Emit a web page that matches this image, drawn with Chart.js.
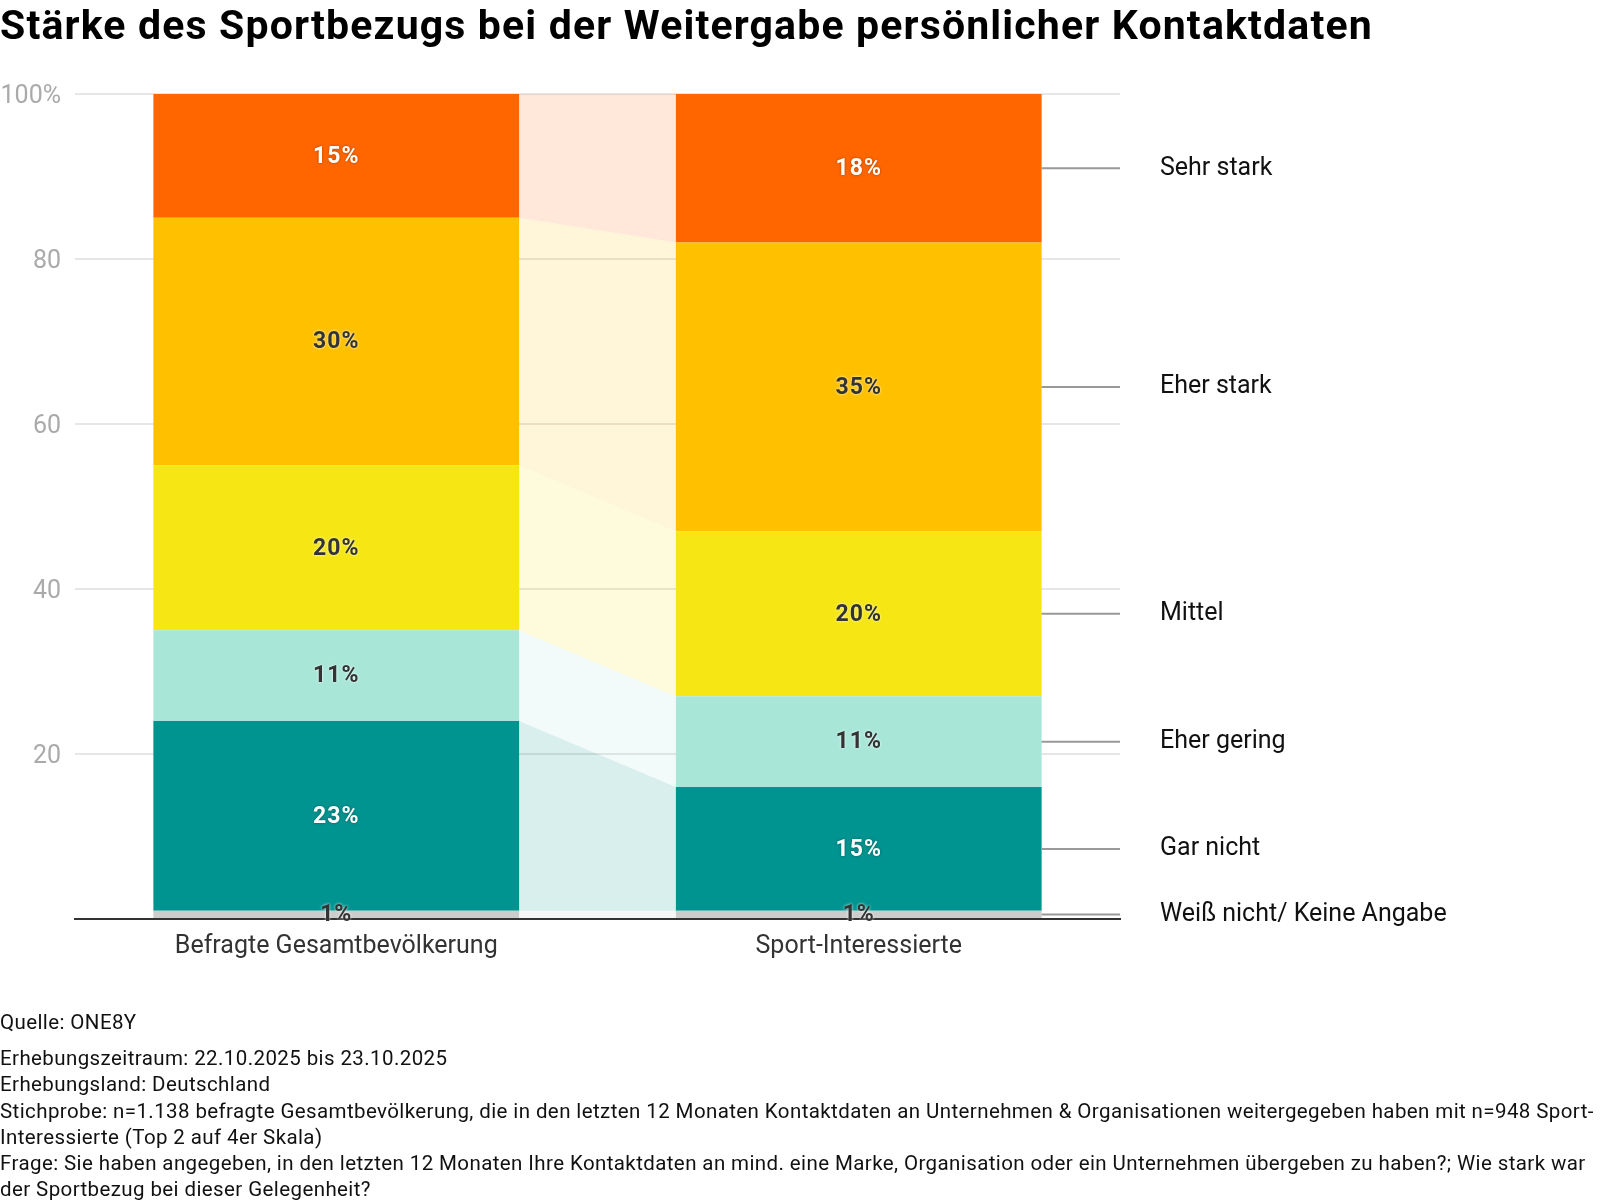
<!DOCTYPE html>
<html lang="de">
<head>
<meta charset="utf-8">
<script src="https://cdn.jsdelivr.net/npm/chart.js@4.4.1/dist/chart.umd.min.js"></script>
<style>
    body { margin: 0; background: #fff; font-family: Roboto, "Noto Sans", sans-serif; }
    #wrap { position: relative; width: 1600px; height: 1204px; }
    #title { position: absolute; left: 0; top: 0; font-weight: 700; font-size: 41px; letter-spacing: 1.15px; color: #000; line-height: 50px; white-space: nowrap; }
    #footer { position: absolute; left: 0; top: 1009px; font-size: 20.5px; letter-spacing: 0.4px; color: #111; line-height: 26.2px; white-space: nowrap; }
    #footer .src { margin-bottom: 10px; }
    canvas { position: absolute; left: 0; top: 0; }
</style>
</head>
<body>
<div id="wrap">
    <canvas id="sportChart" width="1600" height="1204"></canvas>
    <div id="title">Stärke des Sportbezugs bei der Weitergabe persönlicher Kontaktdaten</div>
    <div id="footer">
        <div class="src">Quelle: ONE8Y</div>
        <div>Erhebungszeitraum: 22.10.2025 bis 23.10.2025</div>
        <div>Erhebungsland: Deutschland</div>
        <div>Stichprobe: n=1.138 befragte Gesamtbevölkerung, die in den letzten 12 Monaten Kontaktdaten an Unternehmen &amp; Organisationen weitergegeben haben mit n=948 Sport-</div>
        <div>Interessierte (Top 2 auf 4er Skala)</div>
        <div>Frage: Sie haben angegeben, in den letzten 12 Monaten Ihre Kontaktdaten an mind. eine Marke, Organisation oder ein Unternehmen übergeben zu haben?; Wie stark war</div>
        <div>der Sportbezug bei dieser Gelegenheit?</div>
    </div>
</div>
<script>
// data (bottom of stack first)
var categories = ['Befragte Gesamtbevölkerung', 'Sport-Interessierte'];
var seriesNames = ['Weiß nicht/ Keine Angabe', 'Gar nicht', 'Eher gering', 'Mittel', 'Eher stark', 'Sehr stark'];
var weissNicht = [1, 1];
var garNicht = [23, 15];
var eherGering = [11, 11];
var mittel = [20, 20];
var eherStark = [30, 35];
var sehrStark = [15, 18];
var yTicks = [0, 20, 40, 60, 80, 100];

var seriesValues = [weissNicht, garNicht, eherGering, mittel, eherStark, sehrStark];
var colors = ['#cccccc', '#009490', '#a8e6d8', '#f5e614', '#ffc000', '#ff6600'];
var bandColors = ['rgba(204,204,204,0.15)', 'rgba(0,148,144,0.15)', 'rgba(168,230,216,0.15)',
                  'rgba(245,230,20,0.15)', 'rgba(255,192,0,0.15)', 'rgba(255,102,0,0.15)'];
var labelDark = [true, false, true, true, true, false];

var datasets = seriesNames.map(function(name, i) {
    return {
        label: name,
        data: seriesValues[i],
        backgroundColor: colors[i],
        borderWidth: 0,
        barPercentage: 0.7,
        categoryPercentage: 1
    };
});

// light bands between the two bars
var bandsPlugin = {
    id: 'bands',
    beforeDatasetsDraw: function(chart) {
        var ctx = chart.ctx;
        chart.data.datasets.forEach(function(ds, i) {
            var meta = chart.getDatasetMeta(i);
            var a = meta.data[0], b = meta.data[1];
            var ax = a.x + a.width / 2, bx = b.x - b.width / 2;
            ctx.save();
            ctx.fillStyle = bandColors[i];
            ctx.beginPath();
            ctx.moveTo(ax, a.y);
            ctx.lineTo(bx, b.y);
            ctx.lineTo(bx, b.base);
            ctx.lineTo(ax, a.base);
            ctx.closePath();
            ctx.fill();
            ctx.restore();
        });
    }
};

// percent labels inside bars + leader lines to the right
var labelsPlugin = {
    id: 'segLabels',
    afterDatasetsDraw: function(chart) {
        var ctx = chart.ctx;
        var area = chart.chartArea;
        chart.data.datasets.forEach(function(ds, i) {
            var meta = chart.getDatasetMeta(i);
            meta.data.forEach(function(bar, j) {
                var cy = (bar.y + bar.base) / 2;
                ctx.save();
                ctx.font = 'bold 23px Roboto';
                ctx.letterSpacing = '1px';
                ctx.textAlign = 'center';
                ctx.textBaseline = 'middle';
                if (labelDark[i]) {
                    ctx.fillStyle = '#333333';
                    ctx.shadowColor = 'rgba(255,255,255,0.9)';
                } else {
                    ctx.fillStyle = '#ffffff';
                    ctx.shadowColor = 'rgba(0,0,0,0.35)';
                }
                ctx.shadowBlur = 3;
                ctx.fillText(ds.data[j] + '%', bar.x, cy + 1);
                ctx.restore();
            });
            var last = meta.data[meta.data.length - 1];
            var ly = (last.y + last.base) / 2;
            ctx.save();
            ctx.strokeStyle = '#999999';
            ctx.lineWidth = 2;
            ctx.beginPath();
            ctx.moveTo(last.x + last.width / 2, ly);
            ctx.lineTo(area.right, ly);
            ctx.stroke();
            ctx.font = '25px Roboto';
            ctx.fillStyle = '#111111';
            ctx.textAlign = 'left';
            ctx.textBaseline = 'middle';
            ctx.fillText(ds.label, area.right + 40, ly);
            ctx.restore();
        });
    }
};

new Chart(document.getElementById('sportChart').getContext('2d'), {
    type: 'bar',
    data: { labels: categories, datasets: datasets },
    plugins: [bandsPlugin, labelsPlugin],
    options: {
        responsive: false,
        animation: false,
        layout: { padding: { top: 94, right: 480, bottom: 235, left: 0 } },
        plugins: { legend: { display: false }, tooltip: { enabled: false } },
        scales: {
            x: {
                stacked: true,
                grid: { display: false, drawTicks: false },
                border: { display: true, color: '#333333', width: 2 },
                ticks: { color: '#333333', font: { family: 'Roboto', size: 25 }, padding: 13 },
                afterFit: function(scale) { scale.height = 50; }
            },
            y: {
                stacked: true,
                min: 0,
                max: 100,
                afterBuildTicks: function(scale) {
                    scale.ticks = yTicks.map(function(v) { return { value: v }; });
                },
                grid: { color: '#e6e6e6', lineWidth: 2, drawTicks: false },
                border: { display: false },
                ticks: {
                    color: '#aaaaaa',
                    font: { family: 'Roboto', size: 25 },
                    padding: 14,
                    labelOffset: 3,
                    callback: function(v) { return v === 100 ? '100%' : (v === 0 ? '' : v); }
                },
                afterFit: function(scale) { scale.width = 75; }
            }
        }
    }
});
</script>
</body>
</html>
